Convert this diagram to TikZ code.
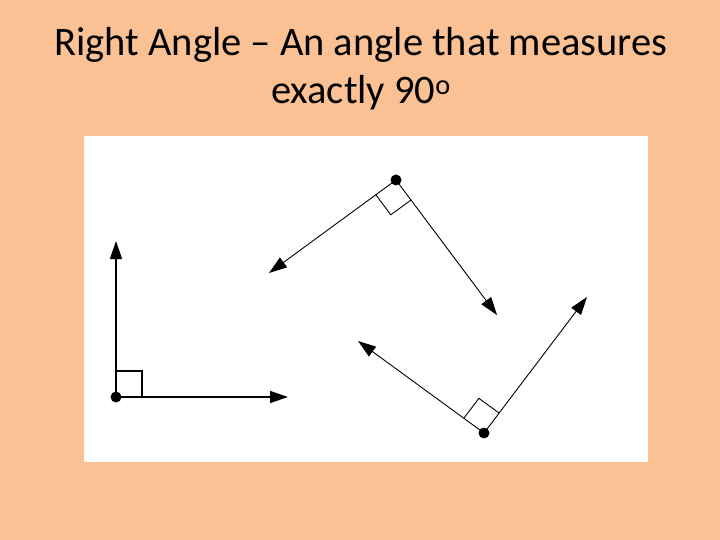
\documentclass[tikz,border=0pt]{standalone}
\usepackage{fontspec}
\setmainfont{Carlito}
\usetikzlibrary{arrows.meta,calc}
\definecolor{peach}{RGB}{249,193,148}
\tikzset{
  ray/.style={-{Triangle[length=18pt,width=12pt]}, line width=0.9pt},
  thickray/.style={ray, line width=1.4pt},
  dotmark/.style={fill=black, circle, inner sep=0pt, minimum size=11pt},
  title/.style={font=\fontsize{40.5}{48}\selectfont, align=center, text=black}
}
\begin{document}
\begin{tikzpicture}[x=1pt,y=-1pt]
  \useasboundingbox (0,0) rectangle (720,540);
  \fill[peach] (0,0) rectangle (720,540);
  \fill[white] (84,136) rectangle (648,462);
  \node[title] (t1) at (361,45) {Right Angle – An angle that measures};
  \node[title] (t2) at (361,93) {exactly 90\textsuperscript{o}};
  % angle 1
  \coordinate (a) at (116,397);
  \coordinate (a1) at (116,241);
  \coordinate (a2) at (288,397);
  \draw[thickray] (a) -- (a1);
  \draw[thickray] (a) -- (a2);
  \coordinate (as1) at ($(a)!26pt!(a1)$);
  \coordinate (as2) at ($(a)!26pt!(a2)$);
  \draw[line width=1.2pt] (as1) -- ($(as1)+(as2)-(a)$) -- (as2);
  \node[dotmark] (ad) at (a) {};
  % angle 2
  \coordinate (b) at (396,180);
  \coordinate (b1) at (269,273);
  \coordinate (b2) at (497,315);
  \draw[ray] (b) -- (b1);
  \draw[ray] (b) -- (b2);
  \coordinate (bs1) at ($(b)!25pt!(b1)$);
  \coordinate (bs2) at ($(b)!25pt!(b2)$);
  \draw[line width=0.9pt] (bs1) -- ($(bs1)+(bs2)-(b)$) -- (bs2);
  \node[dotmark] (bd) at (b) {};
  % angle 3
  \coordinate (c) at (484,433);
  \coordinate (c1) at (358,341);
  \coordinate (c2) at (587,297);
  \draw[ray] (c) -- (c1);
  \draw[ray] (c) -- (c2);
  \coordinate (cs1) at ($(c)!25pt!(c1)$);
  \coordinate (cs2) at ($(c)!25pt!(c2)$);
  \draw[line width=0.9pt] (cs1) -- ($(cs1)+(cs2)-(c)$) -- (cs2);
  \node[dotmark] (cd) at (c) {};
\end{tikzpicture}
\end{document}
